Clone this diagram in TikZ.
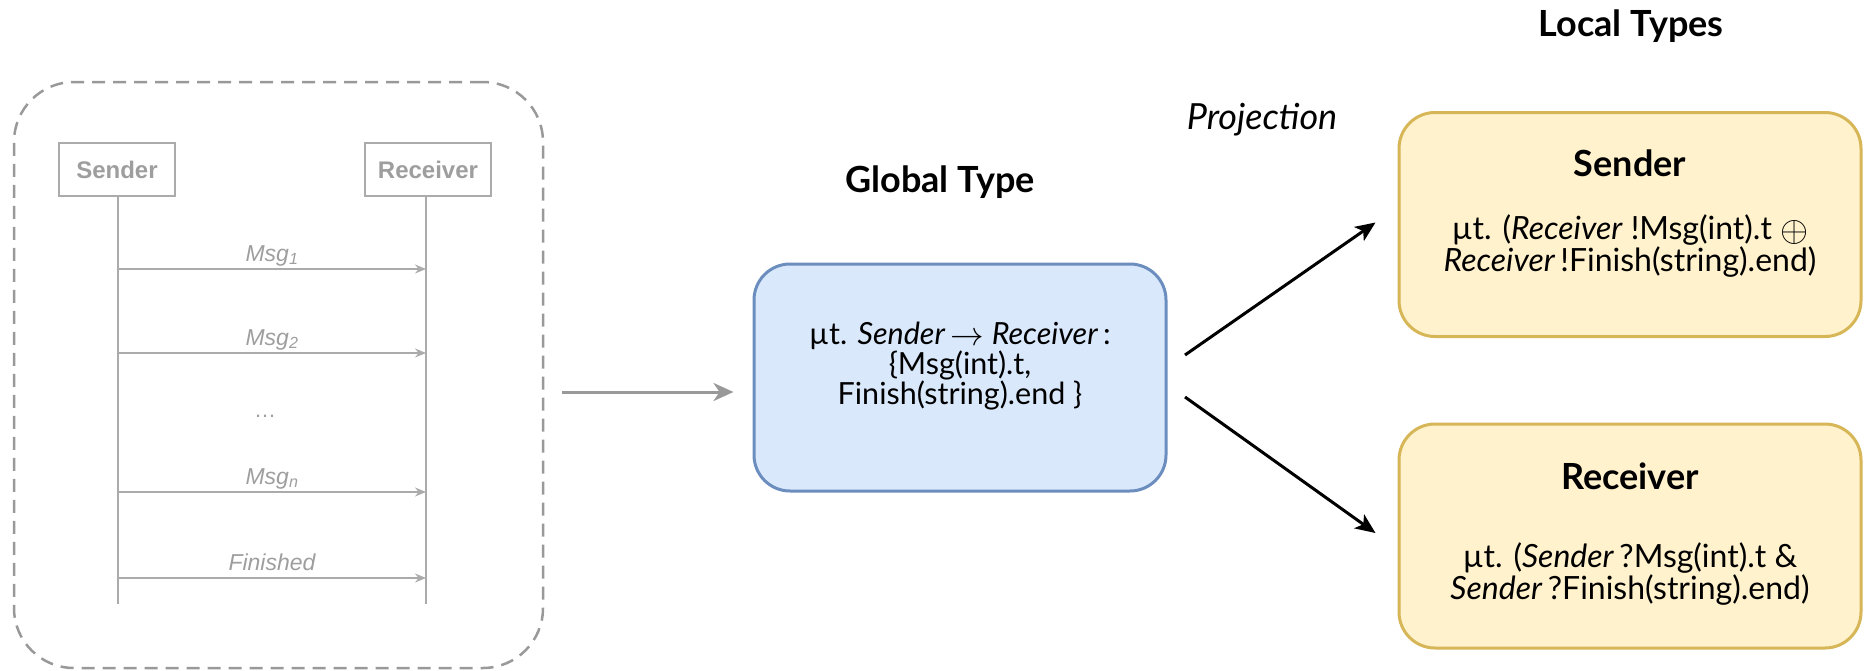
\documentclass[tikz,border=0pt]{standalone}
\usepackage{graphicx}
\usepackage{fontspec}
\setmainfont{Lato}
\newfontfamily\seqfont{Liberation Sans}
\usetikzlibrary{arrows.meta}
\definecolor{seqgray}{HTML}{9E9E9E}
\definecolor{seqline}{HTML}{ABABAB}
\definecolor{dashgray}{HTML}{999999}
\definecolor{globfill}{HTML}{DAE8FC}
\definecolor{globdraw}{HTML}{6C8EBF}
\definecolor{locfill}{HTML}{FFF2CC}
\definecolor{locdraw}{HTML}{D6B656}
\tikzset{
  dashbox/.style={draw=dashgray, line width=2.5pt, dash pattern=on 13pt off 8pt, rounded corners=60pt, inner sep=0pt},
  seqbox/.style={draw=seqline, line width=1.5pt, fill=white, inner sep=0pt, minimum height=53pt, font=\seqfont\bfseries\fontsize{24}{28}\selectfont, text=seqgray},
  lifeline/.style={draw=seqline, line width=2pt},
  msgarrow/.style={draw=seqline, line width=1.6pt, -{Stealth[length=11pt,width=9pt]}},
  msglabel/.style={font=\seqfont\itshape\fontsize{23}{26}\selectfont, text=seqgray, inner sep=0pt},
  globbox/.style={draw=globdraw, fill=globfill, line width=3pt, rounded corners=36pt, minimum width=412pt, minimum height=227pt, inner sep=0pt},
  locbox/.style={draw=locdraw, fill=locfill, line width=3pt, rounded corners=36pt, minimum width=462pt, minimum height=224pt, inner sep=0pt},
  heading/.style={font=\bfseries\fontsize{36}{40}\selectfont, inner sep=0pt},
  globbody/.style={font=\fontsize{30.5}{28}\selectfont, align=center, inner sep=0pt},
  locbody/.style={font=\fontsize{32}{30}\selectfont, align=center, inner sep=0pt},
  grayarrow/.style={draw=dashgray, line width=3pt, -{Stealth[length=20pt,width=18pt,inset=6pt]}},
  blackarrow/.style={draw=black, line width=3pt, -{Stealth[length=20pt,width=17pt,inset=5pt]}},
}
\begin{document}
\begin{tikzpicture}[x=1pt,y=-1pt]
\useasboundingbox (0,0) rectangle (1864,670);
% sequence diagram
\node[dashbox, minimum width=529pt, minimum height=586pt] (seq) at (278.5,375) {};
\node[seqbox, minimum width=116pt] (snd) at (117,169.5) {Sender};
\node[seqbox, minimum width=126pt] (rcv) at (428,169.5) {Receiver};
\coordinate (sndend) at (118,604);
\coordinate (rcvend) at (426,604);
\draw[lifeline] (snd.south -| sndend) -- (sndend);
\draw[lifeline] (rcv.south -| rcvend) -- (rcvend);
\coordinate (m1s) at (118,269); \coordinate (m1e) at (426,269);
\coordinate (m2s) at (118,353); \coordinate (m2e) at (426,353);
\coordinate (mns) at (118,492); \coordinate (mne) at (426,492);
\coordinate (mfs) at (118,578); \coordinate (mfe) at (426,578);
\draw[msgarrow] (m1s) -- (m1e) node[msglabel, midway, anchor=base, yshift=8pt] (l1) {Msg\textsubscript{1}};
\draw[msgarrow] (m2s) -- (m2e) node[msglabel, midway, anchor=base, yshift=8pt] (l2) {Msg\textsubscript{2}};
\node[msglabel, font=\seqfont\fontsize{22}{24}\selectfont] (dots) at (265,416) {\dots};
\draw[msgarrow] (mns) -- (mne) node[msglabel, midway, anchor=base, yshift=8pt] (ln) {Msg\textsubscript{n}};
\draw[msgarrow] (mfs) -- (mfe) node[msglabel, midway, anchor=base, yshift=8pt] (lf) {Finished};
% global type
\node[globbox] (glob) at (960,377.5) {};
\node[heading] (globtitle) at (940,182) {Global Type};
\node[globbody] (globtext) at (960,366) {µt. \textit{Sender}\,\raisebox{-1pt}{\scalebox{1.35}{$\rightarrow$}} \textit{Receiver}\,:\\ \{Msg(int).t,\\ Finish(string).end \}};
\draw[grayarrow] ([xshift=18pt]seq.east |- 0,392) -- ([xshift=-19pt,yshift=-14.5pt]glob.west);
% local types
\node[heading] (loctitle) at (1631,26) {Local Types};
\node[font=\itshape\fontsize{36}{40}\selectfont, inner sep=0pt] (proj) at (1262,120) {Projection};
\node[locbox] (lsnd) at (1630,224.5) {};
\node[heading] (lsndt) at (1630,163) {Sender};
\node[locbody] (lsndb) at (1630,246) {µt. (\textit{Receiver} !Msg(int).t \raisebox{-2pt}{\scalebox{1.45}{$\oplus$}}\\ \textit{Receiver}\,!Finish(string).end)};
\node[locbox] (lrcv) at (1630,536) {};
\node[heading] (lrcvt) at (1630,476) {Receiver};
\node[locbody] (lrcvb) at (1630,574) {µt. (\textit{Sender}\,?Msg(int).t \&\\ \textit{Sender}\,?Finish(string).end)};
\coordinate (a1s) at (1185,355);
\coordinate (a2s) at (1185,397);
\draw[blackarrow] (a1s) -- ([xshift=-22pt,yshift=2pt]lsnd.west);
\draw[blackarrow] (a2s) -- ([xshift=-22pt,yshift=3pt]lrcv.west);
\end{tikzpicture}
\end{document}
